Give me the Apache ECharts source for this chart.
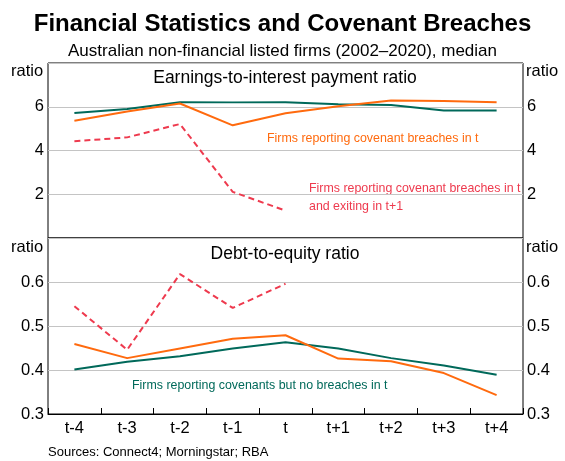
<!DOCTYPE html>
<html>
<head>
<meta charset="utf-8">
<script src="https://cdn.jsdelivr.net/npm/echarts@6/dist/echarts.min.js"></script>
<style>
  html, body { margin: 0; padding: 0; background: #fff; }
  #chart { width: 565px; height: 461px; }
</style>
</head>
<body>
<div id="chart"></div>
<script>
// data
var categories = ['t-4', 't-3', 't-2', 't-1', 't', 't+1', 't+2', 't+3', 't+4'];

// earnings-to-interest payment ratio
var icrNoBreach = [5.71, 5.90, 6.21, 6.20, 6.21, 6.11, 6.08, 5.83, 5.83];
var icrBreach   = [5.36, 5.78, 6.15, 5.15, 5.70, 6.02, 6.29, 6.26, 6.21];
var icrExit     = [4.42, 4.60, 5.21, 2.11, 1.25, null, null, null, null];

// debt-to-equity ratio
var derNoBreach = [0.401, 0.419, 0.431, 0.449, 0.463, 0.449, 0.427, 0.410, 0.389];
var derBreach   = [0.459, 0.427, 0.449, 0.471, 0.479, 0.426, 0.420, 0.393, 0.343];
var derExit     = [0.545, 0.446, 0.618, 0.541, 0.596, null, null, null, null];

var TEAL = '#00695a';
var ORANGE = '#ff6a0e';
var RED = '#ee3a4e';
var FONT = 'Liberation Sans, Arial, sans-serif';

var chartDom = document.getElementById('chart');
var myChart = echarts.init(chartDom, null, { renderer: 'canvas' });

function yAx(gridIndex, pos, min, max, interval, fmt) {
  return {
    type: 'value',
    gridIndex: gridIndex,
    position: pos,
    min: min,
    max: max,
    interval: interval,
    axisLine: { show: false },
    axisTick: { show: false },
    axisLabel: {
      color: '#000',
      fontFamily: FONT,
      fontSize: 16.5,
      margin: 4,
      formatter: fmt
    },
    splitLine: { show: pos === 'left', lineStyle: { color: '#c4c4c4', width: 1 } }
  };
}

var upperFmt = function (v) { return (v === 0 || v === 8) ? '' : String(v); };
var lowerFmt = function (v) { return Math.abs(v - 0.7) < 1e-6 ? '' : v.toFixed(1); };

function line(name, data, xi, yi, color, dashed) {
  return {
    name: name,
    type: 'line',
    xAxisIndex: xi,
    yAxisIndex: yi,
    data: data,
    symbol: 'none',
    connectNulls: false,
    lineStyle: { color: color, width: 2, type: dashed ? [6, 4] : 'solid' },
    z: dashed ? 4 : 3
  };
}

var option = {
  animation: false,
  backgroundColor: '#fff',
  title: [
    {
      text: 'Financial Statistics and Covenant Breaches',
      left: 'center', top: 7,
      textStyle: { fontFamily: FONT, fontSize: 24, fontWeight: 'bold', color: '#000' }
    },
    {
      text: 'Australian non-financial listed firms (2002–2020), median',
      left: 'center', top: 38,
      textStyle: { fontFamily: FONT, fontSize: 17, fontWeight: 'normal', color: '#000' }
    }
  ],
  grid: [
    { left: 48, right: 42, top: 63, height: 175, show: true, borderColor: '#000', borderWidth: 1 },
    { left: 48, right: 42, top: 238, height: 176, show: true, borderColor: '#000', borderWidth: 1 }
  ],
  xAxis: [
    {
      type: 'category', gridIndex: 0, data: categories, boundaryGap: true,
      axisLine: { show: false }, axisTick: { show: false }, axisLabel: { show: false }
    },
    {
      type: 'category', gridIndex: 1, data: categories, boundaryGap: true,
      axisLine: { show: true, lineStyle: { color: '#000' } },
      axisTick: { show: true, inside: true, length: 6, lineStyle: { color: '#000' } },
      axisLabel: { color: '#000', fontFamily: FONT, fontSize: 16.5, margin: 6 }
    }
  ],
  yAxis: [
    yAx(0, 'left', 0, 8, 2, upperFmt),
    yAx(0, 'right', 0, 8, 2, upperFmt),
    yAx(1, 'left', 0.3, 0.7, 0.1, lowerFmt),
    yAx(1, 'right', 0.3, 0.7, 0.1, lowerFmt)
  ],
  series: [
    line('Firms reporting covenants but no breaches in t', icrNoBreach, 0, 0, TEAL, false),
    line('Firms reporting covenant breaches in t', icrBreach, 0, 0, ORANGE, false),
    line('Firms reporting covenant breaches in t and exiting in t+1', icrExit, 0, 0, RED, true),
    line('Firms reporting covenants but no breaches in t', derNoBreach, 1, 2, TEAL, false),
    line('Firms reporting covenant breaches in t', derBreach, 1, 2, ORANGE, false),
    line('Firms reporting covenant breaches in t and exiting in t+1', derExit, 1, 2, RED, true)
  ],
  graphic: [
    { type: 'text', left: 11, top: 63, style: { text: 'ratio', font: '16.5px ' + FONT, fill: '#000' } },
    { type: 'text', left: 526, top: 63, style: { text: 'ratio', font: '16.5px ' + FONT, fill: '#000' } },
    { type: 'text', left: 11, top: 239, style: { text: 'ratio', font: '16.5px ' + FONT, fill: '#000' } },
    { type: 'text', left: 526, top: 239, style: { text: 'ratio', font: '16.5px ' + FONT, fill: '#000' } },
    { type: 'text', x: 285, y: 69, style: { text: 'Earnings-to-interest payment ratio', font: '17.5px ' + FONT, fill: '#000', align: 'center' } },
    { type: 'text', x: 285, y: 245, style: { text: 'Debt-to-equity ratio', font: '17.5px ' + FONT, fill: '#000', align: 'center' } },
    { type: 'text', x: 267, y: 133, style: { text: 'Firms reporting covenant breaches in t', font: '12.4px ' + FONT, fill: ORANGE } },
    { type: 'text', x: 309, y: 180, style: { text: 'Firms reporting covenant breaches in t\nand exiting in t+1', font: '12.4px ' + FONT, fill: RED, lineHeight: 18 } },
    { type: 'text', x: 132, y: 380, style: { text: 'Firms reporting covenants but no breaches in t', font: '12.4px ' + FONT, fill: TEAL } },
    { type: 'text', x: 48, y: 446, style: { text: 'Sources: Connect4; Morningstar; RBA', font: '13px ' + FONT, fill: '#000' } }
  ]
};

myChart.setOption(option);
</script>
</body>
</html>
